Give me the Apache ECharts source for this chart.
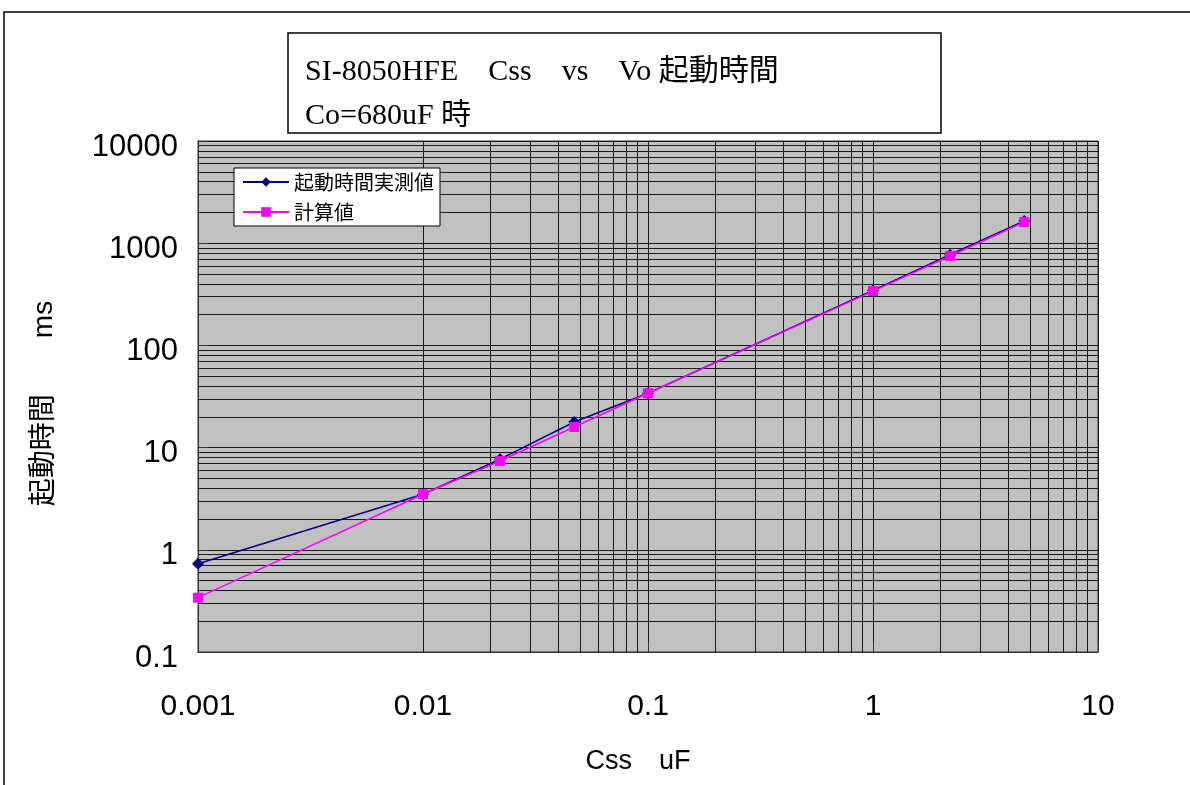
<!DOCTYPE html>
<html>
<head>
<meta charset="utf-8">
<script src="https://cdn.jsdelivr.net/npm/echarts@6/dist/echarts.min.js"></script>
<style>
html,body{margin:0;padding:0;background:#fff;}
#chart{width:1190px;height:785px;}
</style>
</head>
<body>
<div id="chart"></div>
<script>
// ---- data ----
const cssUF = [0.001, 0.01, 0.022, 0.047, 0.1, 1, 2.2, 4.7];
const measuredMs = [0.73, 3.5, 7.7, 17.8, 34, 345, 770, 1650];
const calculatedMs = [0.34, 3.5, 7.4, 15.9, 34, 340, 750, 1610];
const xDecades = [0.001, 0.01, 0.1, 1, 10];
const yDecades = [0.1, 1, 10, 100, 1000, 10000];
const minorSteps = [2, 3, 4, 5, 6, 7, 8, 9];
const seriesNames = ['起動時間実測値', '計算値'];
const titleLine1 = 'SI-8050HFE　Css　vs　Vo 起動時間';
const titleLine2 = 'Co=680uF 時';
const xName = 'Css　uF';
const yName = '起動時間　　ms';

function minorValues(decades) {
  const out = [];
  for (let i = 0; i < decades.length - 1; i++) {
    minorSteps.forEach(m => out.push(+(decades[i] * m).toPrecision(6)));
  }
  return out;
}
const fmt = v => String(parseFloat(Number(v).toPrecision(4)));

const sans = 'Liberation Sans, Arial, Noto Sans CJK JP, sans-serif';
const serif = 'Liberation Serif, Noto Sans CJK JP, serif';
const gridColor = '#1a1a1a';

const chart = echarts.init(document.getElementById('chart'));
chart.setOption({
  animation: false,
  backgroundColor: '#fff',
  grid: {
    left: 198, top: 141, width: 900, height: 511,
    show: true, backgroundColor: '#c0c0c0', borderColor: '#333', borderWidth: 1
  },
  graphic: [
    { type: 'rect', shape: { x: 4, y: 12, width: 1400, height: 900 },
      style: { fill: 'none', stroke: '#000', lineWidth: 1.5 }, silent: true },
    { type: 'rect', shape: { x: 288, y: 33, width: 653, height: 100 },
      style: { fill: '#fff', stroke: '#000', lineWidth: 1.5 }, silent: true },
    { type: 'text', x: 305, y: 72,
      style: { text: titleLine1, fontSize: 30, fontFamily: serif, fill: '#000',
               verticalAlign: 'middle' }, silent: true },
    { type: 'text', x: 305, y: 116,
      style: { text: titleLine2, fontSize: 30, fontFamily: serif, fill: '#000',
               verticalAlign: 'middle' }, silent: true }
  ],
  legend: {
    left: 234, top: 168, orient: 'vertical',
    backgroundColor: '#fff', borderColor: '#000', borderWidth: 1,
    padding: [4, 6, 4, 8], itemWidth: 46, itemHeight: 12, itemGap: 10,
    textStyle: { fontSize: 20, color: '#000', fontFamily: 'Noto Sans CJK JP, sans-serif' },
    data: seriesNames
  },
  xAxis: {
    type: 'log', logBase: 10, min: xDecades[0], max: xDecades[xDecades.length - 1],
    name: xName, nameLocation: 'middle', nameGap: 96,
    nameTextStyle: { fontSize: 27, color: '#000', fontFamily: sans, padding: [0, 20, 0, 0] },
    axisLine: { show: true, lineStyle: { color: '#333' } },
    axisTick: { show: true, inside: true, length: 10, lineStyle: { color: '#333' } },
    axisLabel: { formatter: fmt, fontSize: 30, color: '#000', fontFamily: sans, margin: 40 },
    splitLine: { show: true, lineStyle: { color: gridColor, width: 1 } }
  },
  yAxis: {
    type: 'log', logBase: 10, min: yDecades[0], max: yDecades[yDecades.length - 1],
    name: yName, nameLocation: 'middle', nameGap: 140, nameRotate: 90,
    nameTextStyle: { fontSize: 28, color: '#000', fontFamily: sans, padding: [0, 14, 0, 0] },
    axisLine: { show: true, lineStyle: { color: '#333' } },
    axisTick: { show: true, inside: true, length: 10, lineStyle: { color: '#333' } },
    axisLabel: { formatter: fmt, fontSize: 31, color: '#000', fontFamily: sans, margin: 20,
                 verticalAlign: 'top', lineHeight: 12 },
    splitLine: { show: true, lineStyle: { color: gridColor, width: 1 } }
  },
  series: [
    {
      name: 'minor-grid', type: 'line', data: [], z: 1, silent: true,
      markLine: {
        z: 1, silent: true, symbol: 'none', animation: false,
        label: { show: false }, emphasis: { disabled: true },
        lineStyle: { color: gridColor, width: 1, type: 'solid' },
        data: minorValues(xDecades).map(v => ({ xAxis: v }))
          .concat(minorValues(yDecades).map(v => ({ yAxis: v })))
      }
    },
    {
      name: seriesNames[0], type: 'line', z: 3,
      data: cssUF.map((x, i) => [x, measuredMs[i]]),
      symbol: 'diamond', symbolSize: [12, 12],
      lineStyle: { color: '#000080', width: 1.5 },
      itemStyle: { color: '#000080' }
    },
    {
      name: seriesNames[1], type: 'line', z: 4,
      data: cssUF.map((x, i) => [x, calculatedMs[i]]),
      symbol: 'rect', symbolSize: 10,
      lineStyle: { color: '#ff00ff', width: 1.5 },
      itemStyle: { color: '#ff00ff' }
    }
  ]
});
</script>
</body>
</html>
